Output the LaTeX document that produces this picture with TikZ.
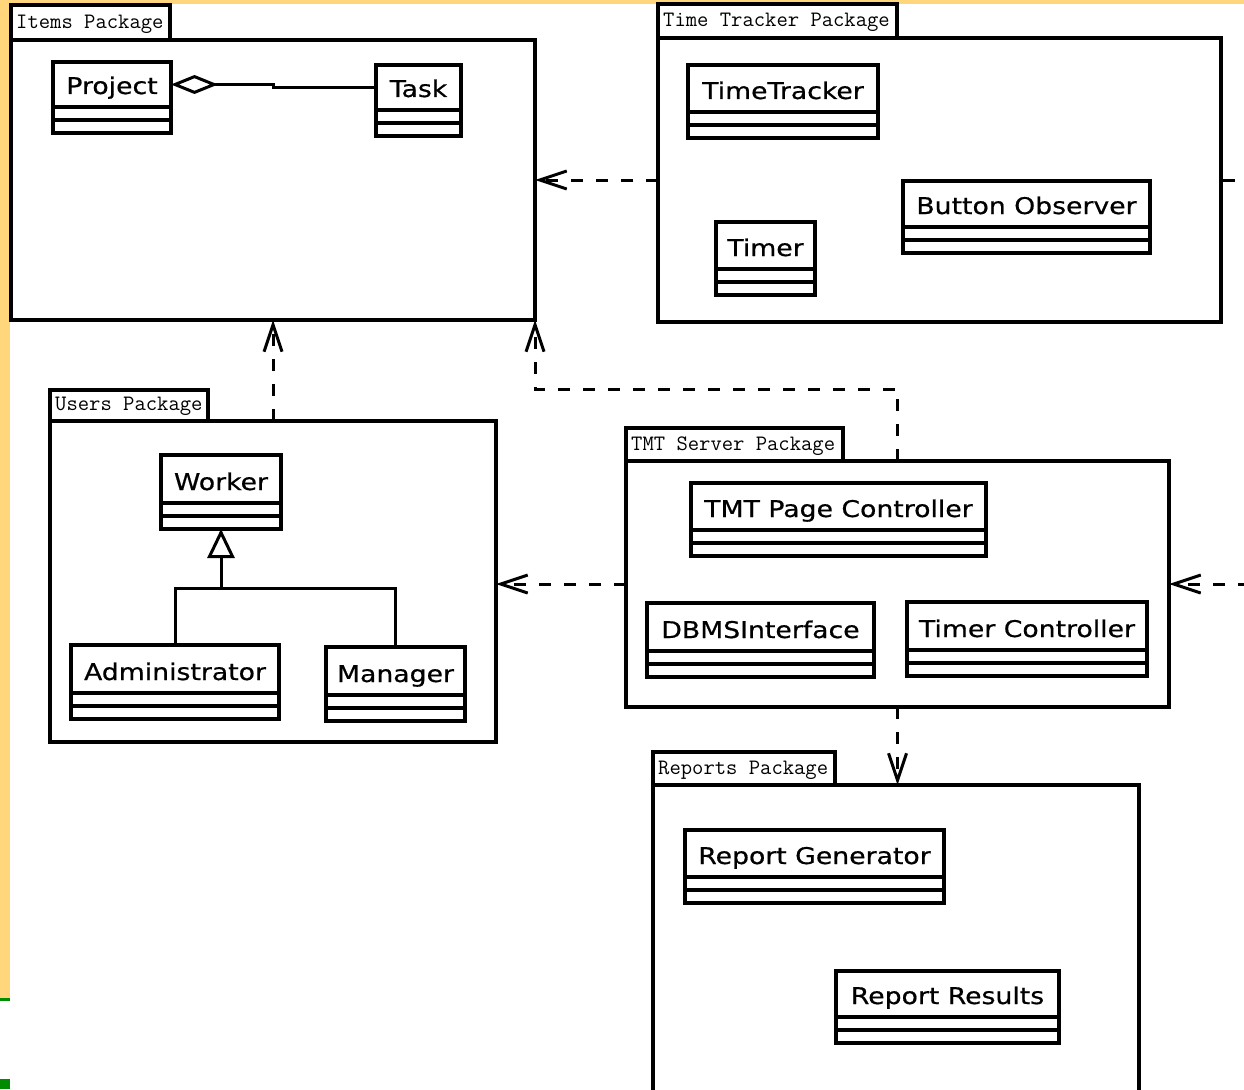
\documentclass[tikz,border=0pt]{standalone}
\usepackage{fontspec}
\newfontfamily\clsfont[FakeStretch=1.16,FakeBold=0.6]{DejaVu Sans}
\usetikzlibrary{arrows.meta,calc}
\definecolor{slideyellow}{RGB}{255,214,124}
\definecolor{slidegreen}{RGB}{0,140,0}

\tikzset{
  pkgbox/.style={draw, rectangle, line width=3.2pt, fill=white, inner sep=0pt, outer sep=0pt},
  tablabel/.style={font=\ttfamily\fontsize{22}{24}\selectfont, inner sep=0pt, anchor=base west},
  clsbox/.style={draw, rectangle, line width=3.2pt, fill=white, inner sep=0pt, outer sep=0pt},
  clsline/.style={line width=3.2pt},
  clslabel/.style={font=\clsfont\fontsize{23}{27}\selectfont, inner sep=0pt, anchor=base},
  dep/.style={line width=3pt, dash pattern=on 12pt off 13pt,
    -{Straight Barb[length=27pt,width=18pt]}},
  solidlink/.style={line width=3pt},
}

% package: id, x1, y1, x2, y2, tab width, tab height, label
\newcommand{\umlpkg}[8]{%
  \node[pkgbox, anchor=north west, minimum width={#4-#2}, minimum height={#5-#3}] (#1) at (#2,#3) {};
  \node[pkgbox, anchor=south west, minimum width={#6}, minimum height={#7}] (#1-tab) at (#1.north west) {};
  \node[tablabel] (#1-lbl) at ($(#1-tab.south west)+(5,-11)$) {#8};
}

% class with name, attribute and operation compartments: id, x1, y1, x2, y2, name
\newcommand{\umlclass}[6]{%
  \node[clsbox, anchor=north west, minimum width={#4-#2}, minimum height={#5-#3}] (#1) at (#2,#3) {};
  \draw[clsline] (#2,#5-26) -- (#4,#5-26);
  \draw[clsline] (#2,#5-13) -- (#4,#5-13);
  \node[clslabel] (#1-lbl) at ({(#2+#4)/2},#5-39) {#6};
  \coordinate (#1-w) at (#2,{(#3+#5-26)/2});
  \coordinate (#1-e) at (#4,{(#3+#5-26)/2});
}

\begin{document}
\begin{tikzpicture}[x=1pt, y=-1pt]
  \useasboundingbox (0,0) rectangle (1244,1089);
  % slide background
  \fill[white] (0,0) rectangle (1244,1089);
  \fill[slideyellow] (0,0) rectangle (1244,4);
  \fill[slideyellow] (0,0) rectangle (10,998);
  \fill[slidegreen] (0,998) rectangle (10,1001);
  \fill[slidegreen] (0,1079) rectangle (10,1089);
  \clip (0,0) rectangle (1244,1089);

  % packages
  \umlpkg{items}{11}{40}{535}{320}{159}{35}{Items Package}
  \umlpkg{tt}{658}{38}{1221}{322}{239}{34}{Time Tracker Package}
  \umlpkg{users}{50}{421}{496}{742}{158}{31}{Users Package}
  \umlpkg{tmt}{626}{461}{1169}{707}{217}{33}{TMT Server Package}
  \umlpkg{reports}{653}{785}{1139}{1100}{182}{33}{Reports Package}

  % classes
  \umlclass{project}{53}{62}{171}{133}{Project}
  \umlclass{task}{376}{65}{461}{136}{Task}
  \umlclass{tracker}{688}{65}{878}{138}{TimeTracker}
  \umlclass{observer}{903}{181}{1150}{253}{Button Observer}
  \umlclass{timer}{716}{222}{815}{295}{Timer}
  \umlclass{worker}{161}{455}{281}{529}{Worker}
  \umlclass{admin}{71}{645}{279}{719}{Administrator}
  \umlclass{manager}{326}{647}{465}{721}{Manager}
  \umlclass{pagectl}{691}{483}{986}{556}{TMT Page Controller}
  \umlclass{dbms}{647}{603}{874}{677}{DBMSInterface}
  \umlclass{timerctl}{907}{602}{1147}{676}{Timer Controller}
  \umlclass{repgen}{685}{830}{944}{903}{Report Generator}
  \umlclass{represults}{836}{971}{1059}{1043}{Report Results}

  % aggregation: Project has Tasks
  \draw[solidlink, {Diamond[open,length=47pt,width=19pt]}-]
    (project-e) -| ++(102,3) -- (task-w);

  % generalization: Administrator and Manager are Workers
  \coordinate (genjoin) at ($(worker.south)+(0,59)$);
  \draw[solidlink, -{Triangle[open,length=29pt,width=27pt]}]
    (admin.north) |- (genjoin) -- (worker.south);
  \draw[solidlink] (manager.north) |- (genjoin);

  % package dependencies
  \draw[dep] (tt.west) -- (items.east);
  \draw[solidlink] (tt.east) -- ++(14,0);
  \draw[dep] (users.north) -- (items.south);
  \draw[dep] (tmt.north) -- ++(0,-72) -| (items.south east);
  \draw[dep] (tmt.west) -- (tmt.west -| users.east);
  \coordinate (outside) at (1250,584);
  \draw[dep] (outside) -- (tmt.east);
  \draw[dep] (tmt.south) -- (tmt.south |- reports.north);
\end{tikzpicture}
\end{document}
